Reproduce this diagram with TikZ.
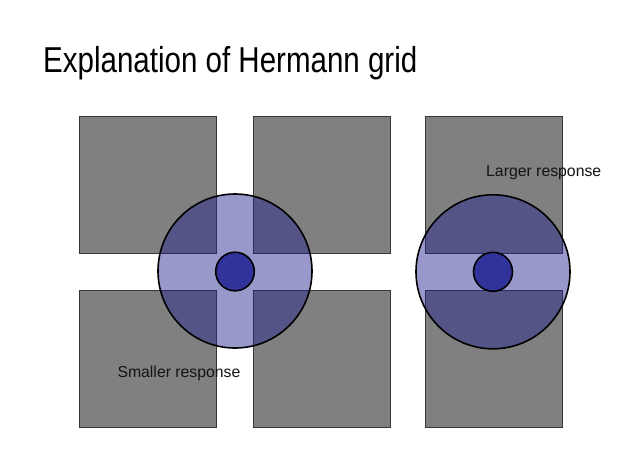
\documentclass[tikz,border=0pt]{standalone}
\usepackage{fontspec}
\setmainfont{Liberation Sans}
\begin{document}
\begin{tikzpicture}[x=1pt,y=-1pt,
  sq/.style={fill=sqgray,draw=sqedge,line width=0.9pt},
  field/.style={fill=rfblue,fill opacity=0.465,draw=black,line width=1.6pt,draw opacity=1},
  centre/.style={fill=cblue,draw=black,line width=1.6pt},
  lbl/.style={inner sep=0pt,anchor=base west,text=txt,font=\fontsize{15.8}{18}\selectfont}]
\definecolor{sqgray}{RGB}{128,128,128}
\definecolor{sqedge}{RGB}{55,55,55}
\definecolor{rfblue}{RGB}{35,35,145}
\definecolor{cblue}{RGB}{50,50,155}
\definecolor{txt}{RGB}{20,20,20}
\useasboundingbox (0,0) rectangle (633,475);
\fill[white] (0,0) rectangle (633,475);
% title
\node[inner sep=0pt,anchor=base west] (title) at (43,72)
  {\scalebox{0.82}[1]{\fontsize{36}{40}\selectfont Explanation of Hermann grid}};
% squares
\draw[sq] (79.3,116) rectangle (216.7,253.3);
\draw[sq] (253.3,116) rectangle (390.7,253.3);
\draw[sq] (79.3,290.7) rectangle (216.7,427.7);
\draw[sq] (253.3,290.7) rectangle (390.7,427.7);
\draw[sq] (425,116) rectangle (562.3,253.3);
\draw[sq] (425,290.7) rectangle (562.3,427.7);
% receptive fields
\draw[field] (235,271) circle (77);
\draw[centre] (235,271.5) circle (19.3);
\draw[field] (493,271.8) circle (77);
\draw[centre] (493,271.8) circle (19.5);
% labels
\node[lbl] (larger) at (486,176.7) {Larger response};
\node[lbl] (smaller) at (117.3,377.3) {Smaller response};
\end{tikzpicture}
\end{document}
